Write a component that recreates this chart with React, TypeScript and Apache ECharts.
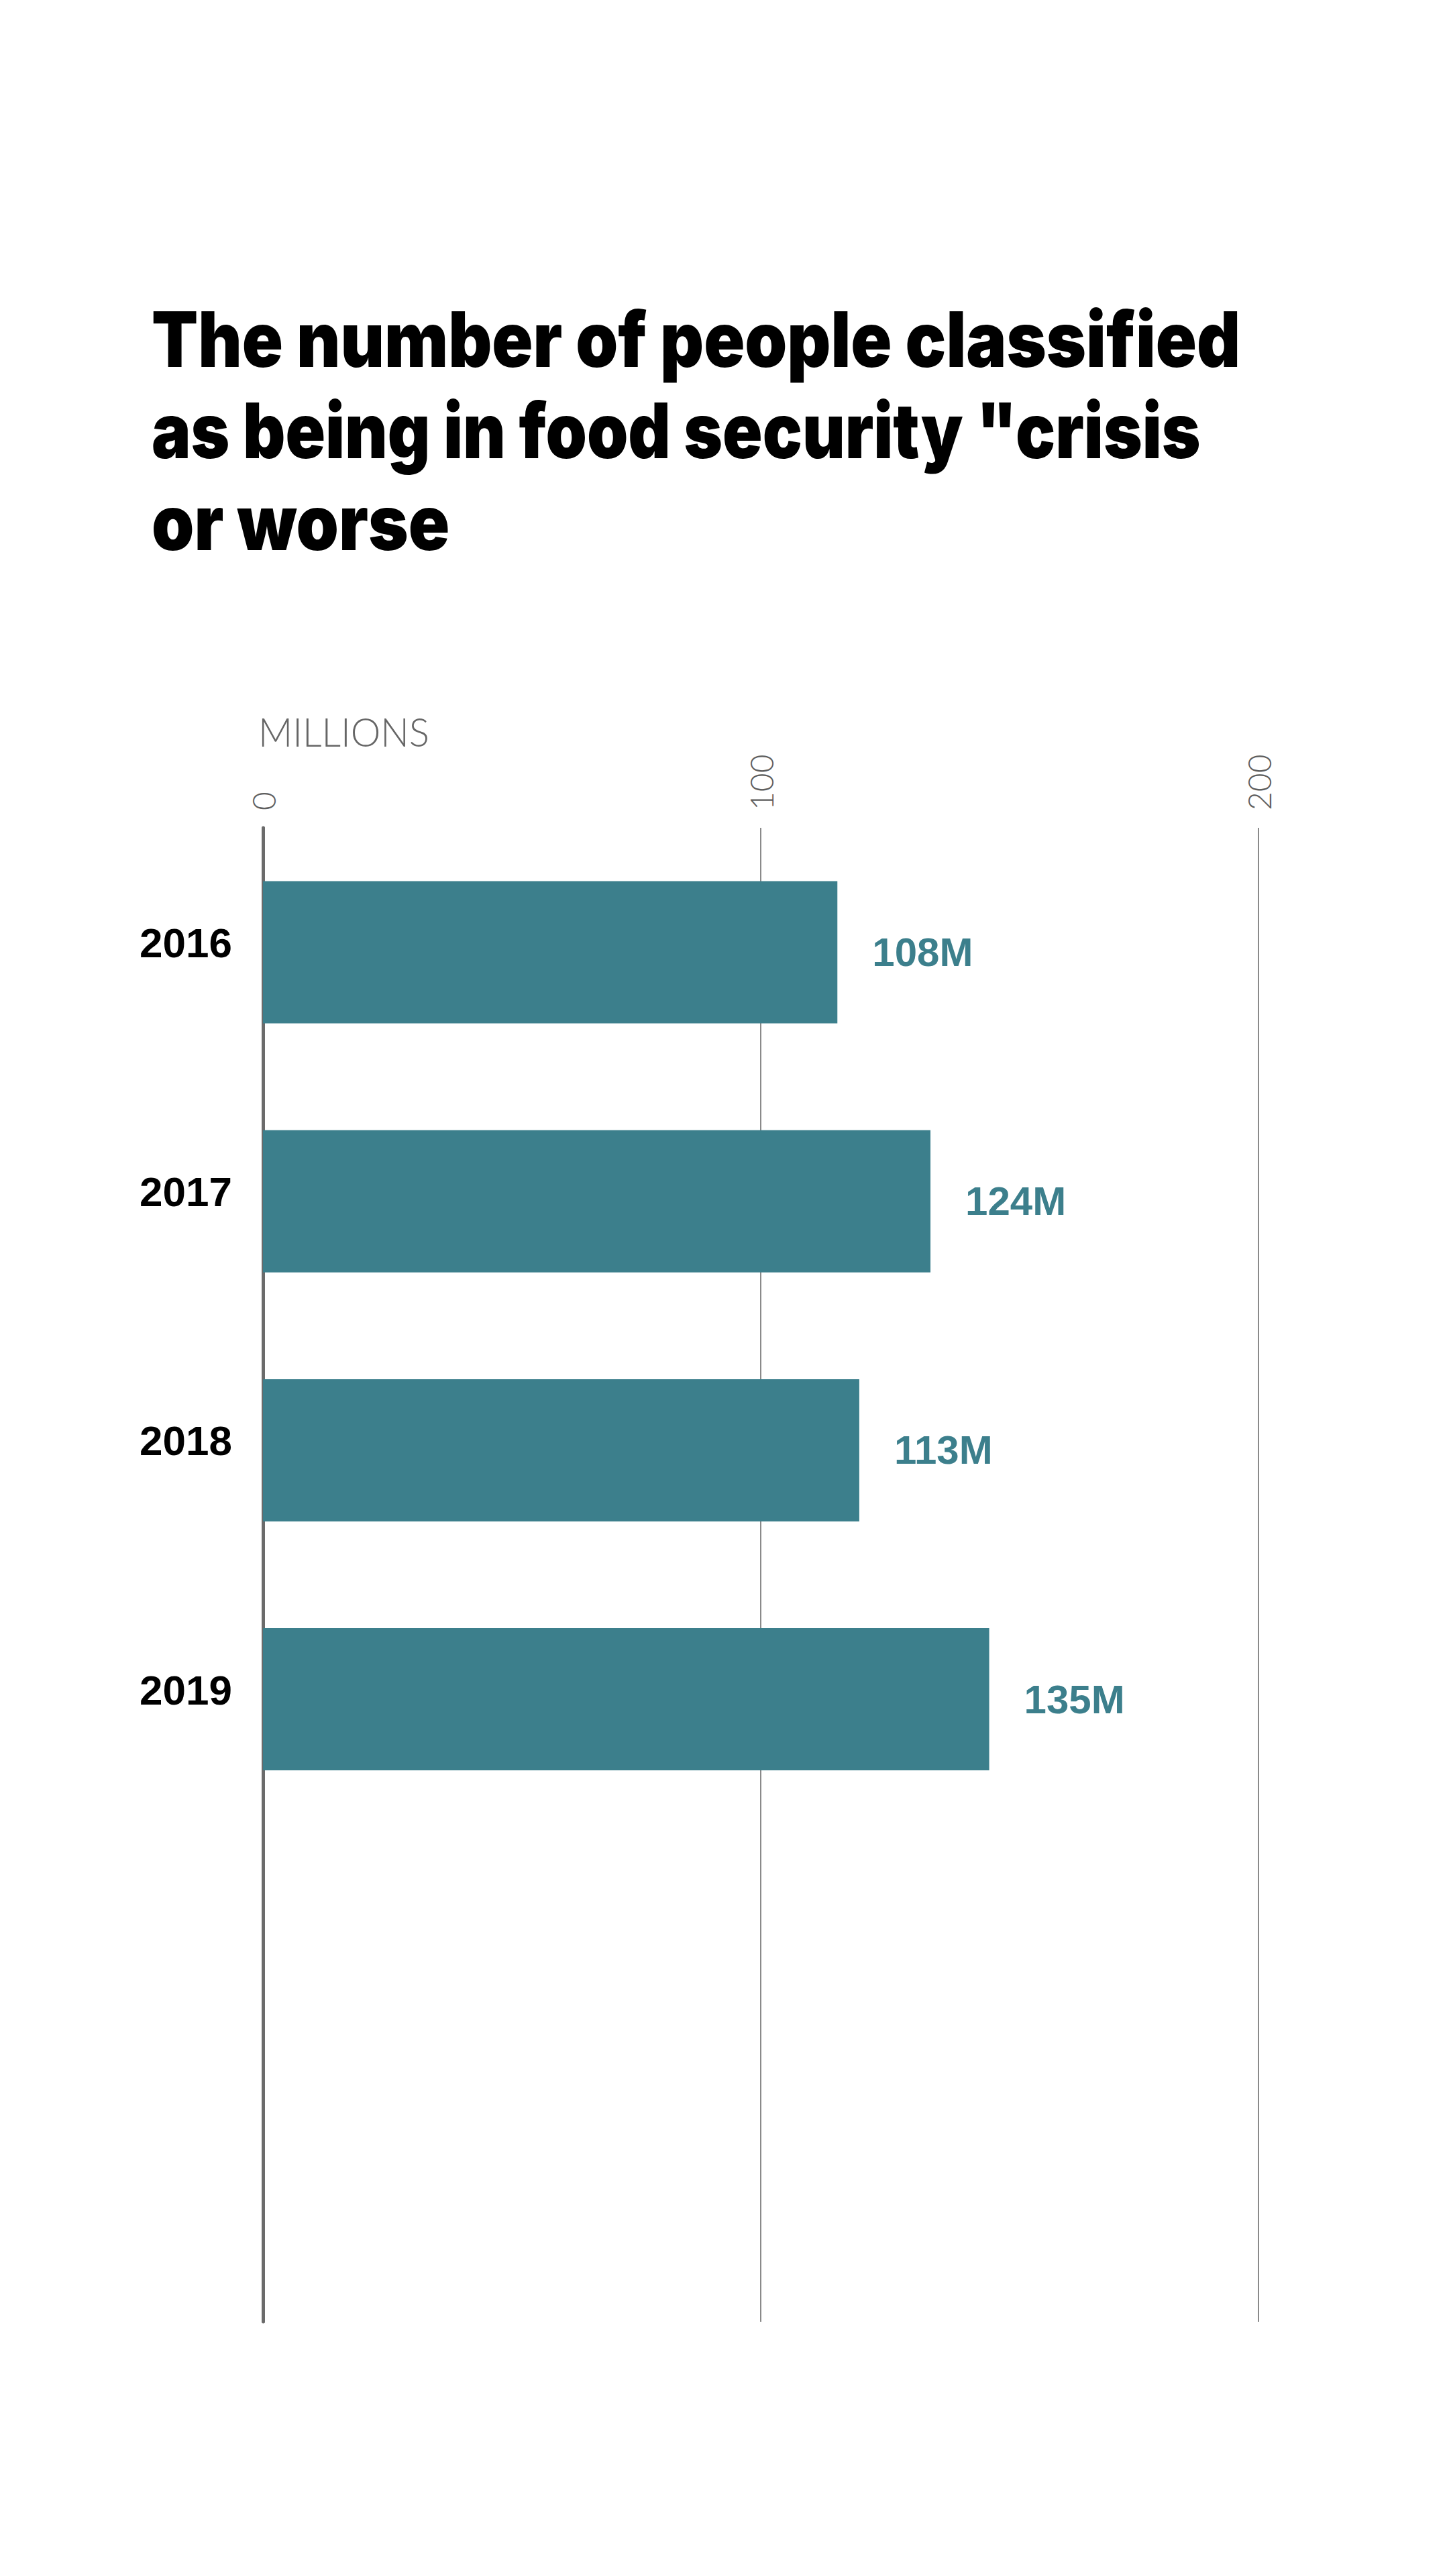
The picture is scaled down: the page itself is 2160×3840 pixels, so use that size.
import React, { useEffect, useRef } from "react";
import * as echarts from "echarts";

// ---- data ----
const categories = ["2016", "2017", "2018", "2019"];
// bar lengths as read against the axis grid
const barValues = [115.4, 134.1, 119.8, 145.9];
// value labels printed next to the bars
const valueLabels = ["108M", "124M", "113M", "135M"];
const xMin = 0;
const xMax = 200;
const xInterval = 100;
const axisUnit = "MILLIONS";
const titleLines = [
  "The number of people classified",
  'as being in food security "crisis',
  "or worse",
];

const TITLE_FONT = "Inter, 'Liberation Sans', Arial, sans-serif";
const BODY_FONT = "'Liberation Sans', Arial, Helvetica, sans-serif";
const LIGHT_FONT = "Lato, 'Liberation Sans', Arial, sans-serif";

function measure(text: string, font: string): number {
  const c = document.createElement("canvas").getContext("2d");
  if (!c) return 1;
  c.font = font;
  return c.measureText(text).width || 1;
}

export default function App() {
  const ref = useRef<HTMLDivElement>(null);

  useEffect(() => {
    if (!ref.current) return;
    const chart = echarts.init(ref.current, null, { renderer: "svg" });

    const titleSize = 114;
    const titleTargets = [1624, 1563, 444];
    const titleGraphics = titleLines.map((line, i) => {
      const w = measure(line, `900 ${titleSize}px ${TITLE_FONT}`);
      return {
        type: "text",
        x: 226,
        y: 506 + i * 136,
        scaleX: titleTargets[i] / w,
        style: {
          text: line,
          fontSize: titleSize,
          fontWeight: 900,
          fontFamily: TITLE_FONT,
          fill: "#000000",
          align: "left",
          verticalAlign: "middle",
        },
      };
    });

    const unitSize = 60;
    const unitWidth = measure(axisUnit, `300 ${unitSize}px ${LIGHT_FONT}`);
    const unitScale = 255 / unitWidth;

    const option = {
      animation: false,
      backgroundColor: "#ffffff",
      grid: {
        left: 392,
        right: 284,
        top: 1234,
        bottom: 379,
        containLabel: false,
      },
      xAxis: {
        type: "value",
        position: "top",
        min: xMin,
        max: xMax,
        interval: xInterval,
        axisLine: { show: false },
        axisTick: { show: false },
        axisLabel: {
          show: true,
          rotate: -90,
          margin: 26,
          fontSize: 48,
          fontWeight: 300,
          fontFamily: LIGHT_FONT,
          color: "#5e5e5e",
        },
        splitLine: {
          show: true,
          lineStyle: { color: "#8a8a8a", width: 2 },
        },
      },
      yAxis: {
        type: "category",
        inverse: true,
        data: [...categories, "", ""],
        axisLine: {
          show: true,
          lineStyle: { color: "#6b6b6b", width: 5 },
        },
        axisTick: { show: false },
        axisLabel: {
          show: true,
          margin: 46,
          formatter: (v: string) => (v ? `{y|${v}}` : ""),
          rich: {
            y: {
              fontSize: 62,
              fontWeight: "bold",
              fontFamily: BODY_FONT,
              color: "#000000",
              padding: [0, 0, 28, 0],
            },
          },
        },
        splitLine: { show: false },
      },
      series: [
        {
          type: "bar",
          data: barValues,
          barWidth: 212,
          itemStyle: { color: "#3c7f8c" },
          label: {
            show: true,
            position: "right",
            distance: 52,
            fontSize: 60,
            fontWeight: "bold",
            fontFamily: BODY_FONT,
            color: "#3c7f8c",
            formatter: (p: any) => valueLabels[p.dataIndex],
          },
        },
      ],
      graphic: [
        ...titleGraphics,
        {
          type: "text",
          x: 385,
          y: 1090,
          scaleX: unitScale,
          style: {
            text: axisUnit,
            fontSize: unitSize,
            fontWeight: 300,
            fontFamily: LIGHT_FONT,
            fill: "#666666",
            align: "left",
            verticalAlign: "middle",
          },
        },
      ],
    };

    chart.setOption(option as any);
    return () => {
      chart.dispose();
    };
  }, []);

  return (
    <div
      ref={ref}
      style={{
        position: "absolute",
        left: 0,
        top: 0,
        width: 2160,
        height: 3840,
        background: "#ffffff",
      }}
    />
  );
}
